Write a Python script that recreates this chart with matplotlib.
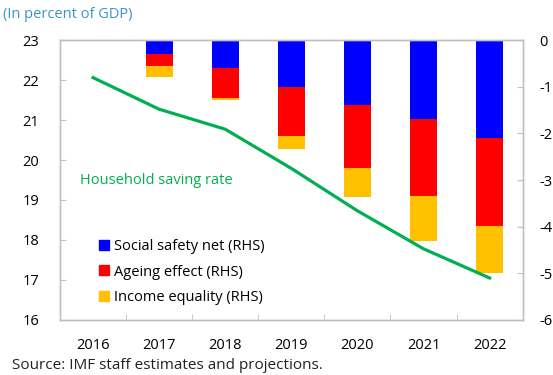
import numpy as np
import matplotlib
matplotlib.use("Agg")
import matplotlib.pyplot as plt
from matplotlib.lines import Line2D

plt.rcParams["font.family"] = ["Open Sans", "DejaVu Sans"]

years = ["2016", "2017", "2018", "2019", "2020", "2021", "2022"]
# contributions in percent of GDP (right-hand scale)
social_safety_net = [0.0, -0.30, -0.60, -1.00, -1.40, -1.69, -2.09]
ageing_effect = [0.0, -0.26, -0.65, -1.05, -1.35, -1.66, -1.90]
income_equality = [0.0, -0.23, -0.04, -0.29, -0.62, -0.95, -1.01]
# household saving rate (left-hand scale)
saving_rate = [22.06, 21.27, 20.77, 19.79, 18.73, 17.78, 17.05]

blue = "#0000ff"
red = "#ff0000"
yellow = "#ffc000"
green = "#00b050"
spine_col = "#bfbfbf"

fig = plt.figure(figsize=(5.53, 3.75), dpi=100)
ax = fig.add_axes([0.1085, 0.1467, 0.8366, 0.7466])
ax2 = ax.twinx()

x = np.arange(len(years))
ssn = np.array(social_safety_net)
age = np.array(ageing_effect)
inc = np.array(income_equality)
w = 0.41
ax.bar(x, ssn, w, color=blue, zorder=2)
ax.bar(x, age, w, bottom=ssn, color=red, zorder=2)
ax.bar(x, inc, w, bottom=ssn + age, color=yellow, zorder=2)
ax.set_ylim(-6, 0)
ax.set_xlim(-0.5, len(years) - 0.5)
ax.yaxis.tick_right()
ax.set_yticks(range(-6, 1))
ax.set_yticklabels([str(v) for v in range(-6, 1)])

ax.set_xticks(x)
ax.set_xticklabels(years)
ax.set_xticks(np.arange(0.5, len(years) - 1), minor=True)
ax.tick_params(axis="x", which="major", length=0, pad=13, labelsize=10.5)
ax.tick_params(axis="x", which="minor", direction="in", length=4, color=spine_col)
ax.tick_params(axis="y", direction="in", length=4, color=spine_col, pad=12,
               labelsize=10.5)

# saving rate on the left-hand scale
ax2.plot(x, saving_rate, color=green, lw=2.3, zorder=3)
ax2.set_ylim(16, 23)
ax2.yaxis.tick_left()
ax2.set_yticks(range(16, 24))
ax2.tick_params(axis="y", direction="in", length=4, color=spine_col, pad=15,
                labelsize=10.5)

for a in (ax, ax2):
    for s in a.spines.values():
        s.set_color(spine_col)
        s.set_linewidth(1.0)

ax2.text(-0.2, 19.5, "Household saving rate", color=green, fontsize=10.5,
         va="center", ha="left")

handles = [
    Line2D([], [], marker="s", ls="", color=blue, markersize=7.5),
    Line2D([], [], marker="s", ls="", color=red, markersize=7.5),
    Line2D([], [], marker="s", ls="", color=yellow, markersize=7.5),
]
labels = ["Social safety net (RHS)", "Ageing effect (RHS)", "Income equality (RHS)"]
ax2.legend(handles, labels, loc="upper left", bbox_to_anchor=(0.066, 0.31),
           frameon=False, fontsize=10.5, handletextpad=0.1, handlelength=1.1,
           labelspacing=0.72, borderaxespad=0)

fig.text(0.005, 0.962, "(In percent of GDP)", color="#3a96c8", fontsize=10.5,
         va="center", ha="left")
fig.text(0.022, 0.025, "Source: IMF staff estimates and projections.",
         color="#222222", fontsize=11, va="center", ha="left")

fig.savefig("out.png", dpi=100)
